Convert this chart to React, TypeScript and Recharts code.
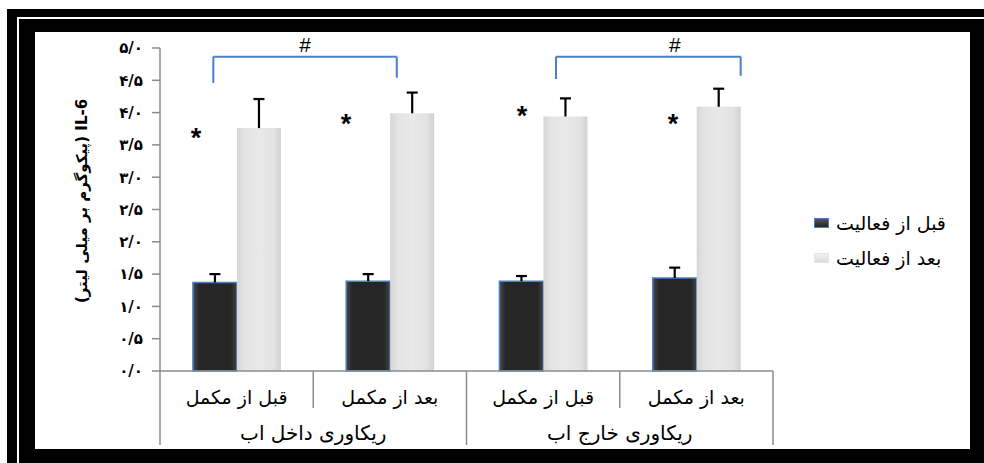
import React from 'react';
import { ComposedChart, Bar, XAxis, YAxis, ReferenceLine, ReferenceDot } from 'recharts';

// ---- data ----
const categories = ['قبل از مکمل', 'بعد از مکمل', 'قبل از مکمل', 'بعد از مکمل'];
const categoryPos = [0.5, 1.5, 2.5, 3.5];
const groupLabels = ['ریکاوری داخل اب', 'ریکاوری خارج اب'];
const groupCenters = [1, 3];
const groupLabelY = -0.96;
const seriesNames = ['قبل از فعالیت', 'بعد از فعالیت'];
const beforeValues = [1.37, 1.39, 1.39, 1.44];
const beforeErrors = [0.13, 0.11, 0.08, 0.16];
const afterValues = [3.76, 3.99, 3.94, 4.09];
const afterErrors = [0.45, 0.32, 0.28, 0.28];
const yTicks = [0, 0.5, 1, 1.5, 2, 2.5, 3, 3.5, 4, 4.5, 5];
const yTickLabels = ['۰/۰', '۰/۵', '۱/۰', '۱/۵', '۲/۰', '۲/۵', '۳/۰', '۳/۵', '۴/۰', '۴/۵', '۵/۰'];
const yAxisTitle = 'IL-6 (پیکوگرم بر میلی لیتر)';

// annotation positions (data units on a 0..4 numeric axis spanning the category bands)
const starX = [0.235, 1.214, 2.362, 3.347];
const starY = [3.7, 3.92, 4.04, 3.92];
const bracketLeftX = [0.348, 2.584];
const bracketRightX = [1.545, 3.789];
const bracketTopY = [4.865, 4.865];
const bracketLeftBottomY = [4.46, 4.52];
const bracketRightBottomY = [4.54, 4.57];
const hashX = [0.946, 3.36];
const hashY = [5.05, 5.04];
const dividerX = [0, 1, 2, 3, 4];
const dividerBottomY = [-1.146, -0.573, -1.146, -0.573, -1.146];

const data = categories.map((name, i) => ({
  id: i,
  pos: categoryPos[i],
  name,
  before: beforeValues[i],
  beforeErr: beforeErrors[i],
  after: afterValues[i],
  afterErr: afterErrors[i],
}));

const PERSIAN_FONT = '"DejaVu Sans", "Liberation Sans", sans-serif';
const AXIS_GRAY = '#8c8c8c';
const BRACKET_BLUE = '#4a7fc9';

const ErrShape = (p: any) => {
  const { x, y, width, height } = p;
  if (x == null || y == null) return null;
  const cx = x + width / 2;
  return (
    <g>
      <line x1={cx} x2={cx} y1={y + height} y2={y} stroke="#000" strokeWidth={2.2} />
      <line x1={cx - 5.5} x2={cx + 5.5} y1={y} y2={y} stroke="#000" strokeWidth={2.2} />
    </g>
  );
};

const XTick = (p: any) => {
  const { x, y, index } = p;
  return (
    <text
      x={x}
      y={y + 26}
      textAnchor="middle"
      dominantBaseline="central"
      fontFamily={PERSIAN_FONT}
      fontSize={19}
      fill="#000"
    >
      {categories[index]}
    </text>
  );
};

const LegendBox = () => (
  <div style={{ position: 'absolute', left: 814, top: 205, fontFamily: PERSIAN_FONT, fontSize: 19, color: '#000' }}>
    {seriesNames.map((n, i) => (
      <div key={i} style={{ display: 'flex', alignItems: 'center', height: 35, whiteSpace: 'nowrap' }}>
        <div
          style={{
            width: 15,
            height: 10,
            marginRight: 7,
            boxSizing: 'border-box',
            background: i === 0 ? 'linear-gradient(#555, #222)' : 'linear-gradient(#f2f2f2, #dcdcdc)',
            border: i === 0 ? '1px solid #4a7fc9' : '1px solid #e6e6e6',
          }}
        />
        <span>{n}</span>
      </div>
    ))}
  </div>
);

export default function App() {
  return (
    <div style={{ position: 'absolute', left: 0, top: 0, width: 984, height: 463, background: '#fff', overflow: 'hidden' }}>
      <svg width={0} height={0} style={{ position: 'absolute' }}>
        <defs>
          <linearGradient id="darkGrad" x1="0" y1="0" x2="1" y2="0">
            <stop offset="0%" stopColor="#4a4a4a" />
            <stop offset="14%" stopColor="#262626" />
            <stop offset="86%" stopColor="#262626" />
            <stop offset="100%" stopColor="#444" />
          </linearGradient>
          <linearGradient id="lightGrad" x1="0" y1="0" x2="1" y2="0">
            <stop offset="0%" stopColor="#d6d6d6" />
            <stop offset="18%" stopColor="#e4e4e4" />
            <stop offset="50%" stopColor="#e9e9e9" />
            <stop offset="82%" stopColor="#e3e3e3" />
            <stop offset="100%" stopColor="#d2d2d2" />
          </linearGradient>
        </defs>
      </svg>
      {/* frame */}
      <div style={{ position: 'absolute', left: 7, top: 9, width: 977, height: 454, background: '#000' }} />
      <div style={{ position: 'absolute', left: 17, top: 17, width: 967, height: 446, background: '#fff' }} />
      <div style={{ position: 'absolute', left: 19, top: 19, width: 965, height: 444, background: '#000' }} />
      <div style={{ position: 'absolute', left: 35, top: 32, width: 935, height: 417, background: '#fff' }}>
        <ComposedChart
          width={935}
          height={417}
          data={data}
          margin={{ top: 16, right: 197, bottom: 4, left: 65 }}
          barCategoryGap="21.5%"
          barGap={0}
        >
          <XAxis
            dataKey="id"
            height={74}
            tickSize={0}
            tickMargin={0}
            tickLine={false}
            axisLine={{ stroke: AXIS_GRAY, strokeWidth: 1.5 }}
            tick={<XTick />}
            interval={0}
          />
          <XAxis xAxisId="num" dataKey="pos" type="number" domain={[0, 4]} allowDataOverflow hide />
          <YAxis
            width={60}
            domain={[0, 5]}
            ticks={yTicks}
            interval={0}
            tickSize={8}
            tickMargin={9}
            tickFormatter={(v: number) => yTickLabels[Math.round(v * 2)]}
            tick={{ fill: '#000', fontSize: 15, fontWeight: 'bold', fontFamily: PERSIAN_FONT, letterSpacing: 3 }}
            axisLine={{ stroke: AXIS_GRAY, strokeWidth: 1.5 }}
            tickLine={{ stroke: AXIS_GRAY, strokeWidth: 1.5 }}
          />
          <Bar dataKey="before" name={seriesNames[0]} stackId="a" fill="url(#darkGrad)" stroke="#4a7fc9" strokeWidth={1.5} isAnimationActive={false} />
          <Bar dataKey="beforeErr" stackId="a" legendType="none" shape={<ErrShape />} isAnimationActive={false} />
          <Bar dataKey="after" name={seriesNames[1]} stackId="b" fill="url(#lightGrad)" isAnimationActive={false} />
          <Bar dataKey="afterErr" stackId="b" legendType="none" shape={<ErrShape />} isAnimationActive={false} />

          {dividerX.map((x, i) => (
            <ReferenceLine
              key={'d' + i}
              xAxisId="num"
              ifOverflow="visible"
              segment={[{ x, y: 0 }, { x, y: dividerBottomY[i] }]}
              stroke={AXIS_GRAY}
              strokeWidth={1.5}
            />
          ))}
          {bracketLeftX.map((lx, i) => (
            <React.Fragment key={'b' + i}>
              <ReferenceLine xAxisId="num" ifOverflow="visible" segment={[{ x: lx, y: bracketTopY[i] }, { x: bracketRightX[i], y: bracketTopY[i] }]} stroke={BRACKET_BLUE} strokeWidth={2} />
              <ReferenceLine xAxisId="num" ifOverflow="visible" segment={[{ x: lx, y: bracketTopY[i] }, { x: lx, y: bracketLeftBottomY[i] }]} stroke={BRACKET_BLUE} strokeWidth={2} />
              <ReferenceLine xAxisId="num" ifOverflow="visible" segment={[{ x: bracketRightX[i], y: bracketTopY[i] }, { x: bracketRightX[i], y: bracketRightBottomY[i] }]} stroke={BRACKET_BLUE} strokeWidth={2} />
            </React.Fragment>
          ))}
          {hashX.map((x, i) => (
            <ReferenceDot
              key={'h' + i}
              xAxisId="num"
              x={x}
              y={hashY[i]}
              ifOverflow="visible"
              shape={(p: any) => (
                <text x={p.cx} y={p.cy} dy={7} textAnchor="middle" fontFamily="Liberation Sans, Arial, sans-serif" fontSize={21} fill="#000">#</text>
              )}
            />
          ))}
          {starX.map((x, i) => (
            <ReferenceDot
              key={'s' + i}
              xAxisId="num"
              x={x}
              y={starY[i]}
              ifOverflow="visible"
              shape={(p: any) => (
                <text x={p.cx} y={p.cy} dy={15} textAnchor="middle" fontFamily="Liberation Sans, Arial, sans-serif" fontWeight="bold" fontSize={27} fill="#000">*</text>
              )}
            />
          ))}
          {groupCenters.map((x, i) => (
            <ReferenceDot
              key={'g' + i}
              xAxisId="num"
              x={x}
              y={groupLabelY}
              ifOverflow="visible"
              shape={(p: any) => (
                <text x={p.cx} y={p.cy} textAnchor="middle" dominantBaseline="central" fontFamily={PERSIAN_FONT} fontSize={20} fill="#000">{groupLabels[i]}</text>
              )}
            />
          ))}
          <text
            x={47}
            y={169}
            transform="rotate(-90 47 169)"
            textAnchor="middle"
            dominantBaseline="central"
            direction="rtl"
            fontFamily={PERSIAN_FONT}
            fontWeight="bold"
            fontSize={15}
            fill="#000"
          >
            {yAxisTitle}
          </text>
        </ComposedChart>
      </div>
      <LegendBox />
    </div>
  );
}
